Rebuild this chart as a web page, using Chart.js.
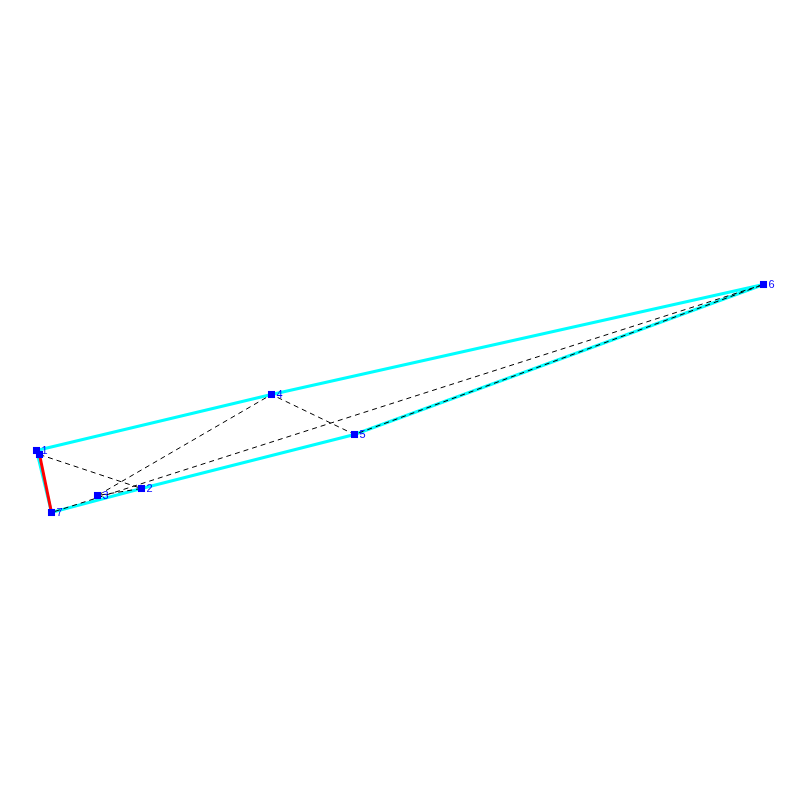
<!DOCTYPE html>
<html>
<head>
<meta charset="utf-8">
<title>Tour</title>
<script src="https://cdn.jsdelivr.net/npm/chart.js@4/dist/chart.umd.min.js"></script>
<style>
  html, body { margin: 0; padding: 0; background: #fff; }
  canvas { display: block; }
</style>
</head>
<body>
<canvas id="tourChart" width="800" height="800"></canvas>
<script>
"use strict";

// ─── Data (y counted from the bottom) ─
const hullX = [36.5, 271.5, 763.5, 354.5, 141.5, 51.5, 36.5];
const hullY = [349.5, 405.5, 515.5, 365.5, 311.5, 287.5, 349.5];

const tourX = [39.5, 141.5, 97.5, 271.5, 354.5, 763.5, 51.5];
const tourY = [345.5, 311.5, 304.5, 405.5, 365.5, 515.5, 287.5];

const closeX = [51.5, 39.5];
const closeY = [287.5, 345.5];

const nodeX = [36.5, 141.5, 97.5, 271.5, 354.5, 763.5, 51.5];
const nodeY = [349.5, 311.5, 304.5, 405.5, 365.5, 515.5, 287.5];
const nodeLabels = ["1", "2", "3", "4", "5", "6", "7"];

const toPoints = (xs, ys) => xs.map((x, i) => ({ x, y: ys[i] }));

// ─── Node number labels, placed through the scales ─────────
const nodeLabelPlugin = {
  id: "nodeLabels",
  afterDatasetsDraw(chart) {
    const { ctx, scales } = chart;
    ctx.save();
    ctx.font = "11px 'Liberation Sans', sans-serif";
    ctx.fillStyle = "#0000ff";
    ctx.textAlign = "left";
    ctx.textBaseline = "middle";
    nodeLabels.forEach((label, i) => {
      ctx.fillText(label, scales.x.getPixelForValue(nodeX[i]) + 5, scales.y.getPixelForValue(nodeY[i]));
    });
    ctx.restore();
  },
};

new Chart(document.getElementById("tourChart"), {
  type: "scatter",
  data: {
    datasets: [
      { data: toPoints(nodeX, nodeY), order: 0, showLine: false, pointStyle: "rect", pointRadius: 5, backgroundColor: "#0000ff", borderWidth: 0 },
      { data: toPoints(closeX.slice(1), closeY.slice(1)), order: 1, showLine: false, pointStyle: "rect", pointRadius: 5, backgroundColor: "#0000ff", borderWidth: 0 },
      { data: toPoints(closeX, closeY), order: 2, showLine: true, borderColor: "#ff0000", borderWidth: 3, pointRadius: 0 },
      { data: toPoints(tourX, tourY), order: 3, showLine: true, borderColor: "#000000", borderWidth: 1, borderDash: [5, 4], pointRadius: 0 },
      { data: toPoints(hullX, hullY), order: 4, showLine: true, borderColor: "#00ffff", borderWidth: 3, pointRadius: 0 },
    ],
  },
  options: {
    responsive: false,
    animation: false,
    layout: { padding: 0, autoPadding: false },
    scales: {
      x: { type: "linear", min: 0, max: 800, display: false },
      y: { type: "linear", min: 0, max: 800, display: false },
    },
    plugins: { legend: { display: false }, tooltip: { enabled: false } },
  },
  plugins: [nodeLabelPlugin],
});
</script>
</body>
</html>
